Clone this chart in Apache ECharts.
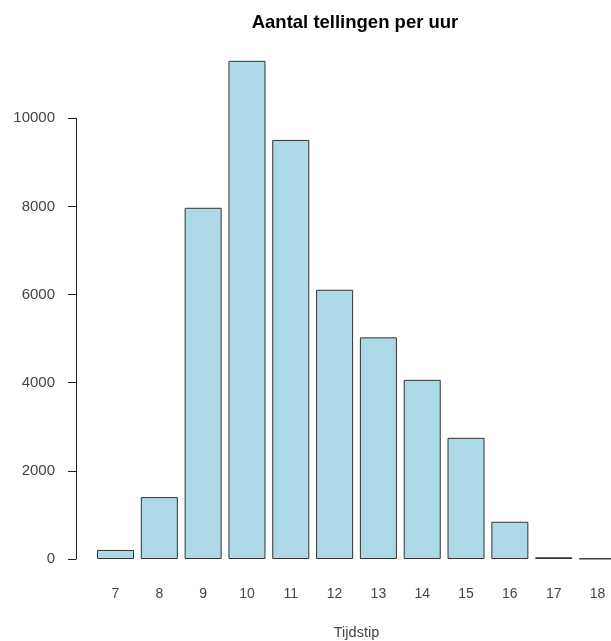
<!DOCTYPE html>
<html>
<head>
<meta charset="utf-8">
<script src="https://cdn.jsdelivr.net/npm/echarts@6/dist/echarts.min.js"></script>
<style>
html,body{margin:0;padding:0;background:#fff;}
#c{width:611px;height:641px;}
</style>
</head>
<body>
<div id="c"></div>
<script>
const categories = ['7','8','9','10','11','12','13','14','15','16','17','18'];
const counts = [205, 1405, 7970, 11305, 9510, 6110, 5030, 4065, 2750, 845, 40, 10];
const yTicks = { min: 0, max: 10000, interval: 2000 };
const titleText = 'Aantal tellingen per uur';
const xTitle = 'Tijdstip';

const chart = echarts.init(document.getElementById('c'), null, {renderer: 'canvas'});
const font = 'Liberation Sans, Arial, sans-serif';
chart.setOption({
  animation: false,
  backgroundColor: '#ffffff',
  title: {
    text: titleText,
    left: 350, top: 8, textAlign: 'center',
    textStyle: {fontFamily: font, fontWeight: 'bold', fontSize: 18.5, color: '#000'}
  },
  grid: [
    {left: 93.6, right: -8.4, top: 30.2, bottom: 82, containLabel: false, outerBoundsMode: 'none'},
    {left: 76, width: 10, top: 118.3, bottom: 82, containLabel: false, outerBoundsMode: 'none'}
  ],
  xAxis: [
    {
      type: 'category', gridIndex: 0, data: categories,
      axisLine: {show: false}, axisTick: {show: false},
      axisLabel: {margin: 28, fontFamily: font, fontSize: 14, color: '#444'},
      name: xTitle, nameLocation: 'middle', nameGap: 66,
      nameTextStyle: {fontFamily: font, fontSize: 14.5, color: '#444', padding: [0, 0, 0, 0]}
    },
    {type: 'value', gridIndex: 1, show: false}
  ],
  yAxis: [
    {type: 'value', gridIndex: 0, min: 0, max: 12000, show: false},
    {
      type: 'value', gridIndex: 1, min: yTicks.min, max: yTicks.max, interval: yTicks.interval,
      axisLine: {show: true, lineStyle: {color: '#222', width: 1}},
      axisTick: {show: true, length: 8, lineStyle: {color: '#222', width: 1}},
      splitLine: {show: false},
      axisLabel: {margin: 21, fontFamily: font, fontSize: 15, color: '#444', formatter: function (v) { return String(v); }}
    }
  ],
  series: [{
    type: 'bar', xAxisIndex: 0, yAxisIndex: 0,
    data: counts, barWidth: '84.5%',
    itemStyle: {color: '#ADD8E6', borderColor: '#333', borderWidth: 1}
  }]
});
</script>
</body>
</html>
